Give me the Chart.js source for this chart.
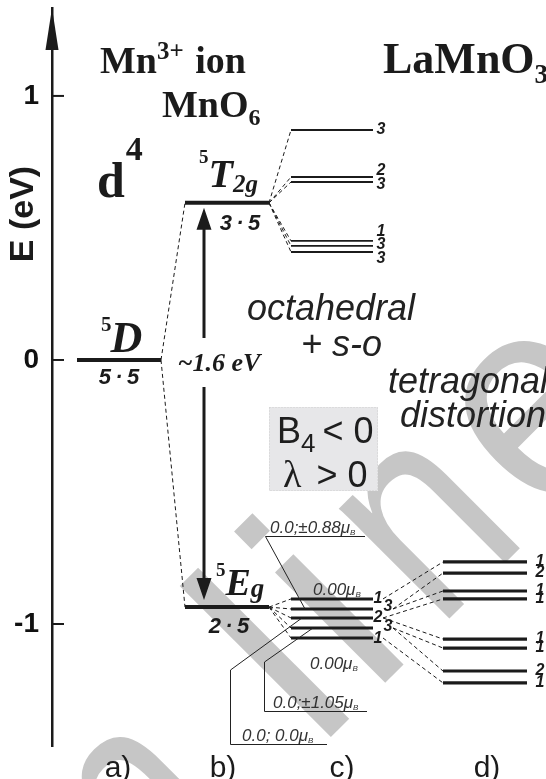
<!DOCTYPE html>
<html>
<head>
<meta charset="utf-8">
<title>Mn3+ d4 levels in LaMnO3</title>
<script src="https://cdn.jsdelivr.net/npm/chart.js@4/dist/chart.umd.min.js"></script>
<style>
  html, body { margin: 0; padding: 0; background: #fff; }
  #wrap { width: 546px; height: 779px; position: relative; }
</style>
</head>
<body>
<div id="wrap"><canvas id="c" width="546" height="779"></canvas></div>
<script>
// ---- level energies (eV) and degeneracies ----
const freeIonLevels   = [0];                       // 5D
const freeIonLabels   = ['5\u2009·\u20095'];
const cubicLevels     = [0.595, -0.936];           // 5T2g, 5Eg
const cubicLabels     = ['3\u2009·\u20095', '2\u2009·\u20095'];
const t2gSplitLevels  = [0.871, 0.693, 0.674, 0.451, 0.432, 0.409];
const t2gSplitDeg     = ['3', '2', '3', '1', '3', '3'];
const egSplitLevels   = [-0.905, -0.943, -0.977, -1.015, -1.053];
const egSplitDeg      = ['1', '3', '2', '3', '1'];
const tetraLevels     = [-0.765, -0.807, -0.875, -0.905, -1.057, -1.091, -1.178, -1.223];
const tetraDeg        = ['1', '2', '1', '1', '1', '1', '2', '1'];
const tetraParent     = [0, 1, 1, 2, 2, 3, 3, 4];  // which egSplit level each one comes from
const yTicks          = [-1, 0, 1];
const yRange          = [-1.462, 1.333];
const columnNames     = ['a)', 'b)', 'c)', 'd)'];
const gapLabel        = '~1.6 eV';

// ---- styling ----
const SERIF = "'Liberation Serif','Times New Roman',serif";
const SANS  = "'Liberation Sans',Arial,sans-serif";
const INK   = '#1b1b1b';
const f = (style, weight, size, fam) => `${style} ${weight} ${size}px ${fam}`;

// column spans on the x scale (x scale runs in pixel-like units)
const COL = { a: [77, 161], b: [185, 269], c: [291, 373], d: [443, 527] };

// ---- datasets ----
const datasets = [];
function link(x0, e0, x1, e1) {
  datasets.push({ data: [{ x: x0, y: e0 }, { x: x1, y: e1 }], borderColor: INK, borderWidth: 1,
    borderDash: [4, 3], pointRadius: 0, showLine: true, order: 2 });
}
function level(span, e, w) {
  datasets.push({ data: [{ x: span[0], y: e }, { x: span[1], y: e }], borderColor: INK, borderWidth: w,
    borderDash: [], pointRadius: 0, showLine: true, borderCapStyle: 'butt', order: 1 });
}
// connectors
cubicLevels.forEach(e => link(COL.a[1], freeIonLevels[0], COL.b[0], e));
t2gSplitLevels.forEach(e => link(COL.b[1], cubicLevels[0], COL.c[0], e));
egSplitLevels.forEach(e => link(COL.b[1], cubicLevels[1], COL.c[0], e));
tetraLevels.forEach((e, i) => {
  const p = tetraParent[i];
  link(COL.c[1] + (p % 2 ? 20 : 10), egSplitLevels[p], COL.d[0], e);
});
// levels
freeIonLevels.forEach(e => level(COL.a, e, 4));
cubicLevels.forEach(e => level(COL.b, e, 4));
t2gSplitLevels.forEach(e => level(COL.c, e, 1.8));
egSplitLevels.forEach(e => level(COL.c, e, 3));
tetraLevels.forEach(e => level(COL.d, e, 3.2));

// ---- helpers ----
function rich(ctx, parts, x, y, align) {
  let w = 0;
  parts.forEach(p => { ctx.font = p.f; p.w = ctx.measureText(p.t).width; w += p.w + (p.gap || 0); });
  let cx = align === 'center' ? x - w / 2 : align === 'right' ? x - w : x;
  parts.forEach(p => { ctx.font = p.f; ctx.fillText(p.t, cx, y + (p.dy || 0)); cx += p.w + (p.gap || 0); });
}

// watermark drawn behind everything
const backdrop = {
  id: 'backdrop',
  beforeDraw(chart) {
    const ctx = chart.ctx;
    ctx.save();
    ctx.fillStyle = '#fff';
    ctx.fillRect(0, 0, chart.width, chart.height);
    ctx.translate(340, 728);
    ctx.rotate(-Math.PI / 4);
    ctx.fillStyle = '#c6c6c6';
    ctx.font = f('normal', 'normal', 295, SANS);
    ctx.textAlign = 'center';
    ctx.textBaseline = 'alphabetic';
    const letters = ['o', 'n', 'l', 'i', 'n', 'e'];
    const along   = [-375, -200, 0, 77, 204, 362];
    const squeeze = [0.85, 0.8, 1, 1, 0.8, 0.9];
    letters.forEach((L, i) => {
      ctx.save();
      ctx.translate(along[i], 0);
      ctx.scale(squeeze[i], 1);
      ctx.fillText(L, 0, 0);
      ctx.restore();
    });
    ctx.restore();
  }
};

const annotate = {
  id: 'annotate',
  afterDatasetsDraw(chart) {
    const ctx = chart.ctx;
    const ys = chart.scales.y;
    const Y = v => ys.getPixelForValue(v);
    const axX = chart.chartArea.left;
    ctx.save();
    ctx.fillStyle = INK;
    ctx.strokeStyle = INK;

    // axis arrow head and tick marks
    ctx.beginPath();
    ctx.moveTo(axX, chart.chartArea.top);
    ctx.lineTo(axX - 6.5, chart.chartArea.top + 42);
    ctx.lineTo(axX + 6.5, chart.chartArea.top + 42);
    ctx.closePath();
    ctx.fill();
    ctx.lineWidth = 2;
    yTicks.forEach(v => { ctx.beginPath(); ctx.moveTo(axX, Y(v)); ctx.lineTo(axX + 12, Y(v)); ctx.stroke(); });

    // axis title
    ctx.save();
    ctx.translate(33, 214);
    ctx.rotate(-Math.PI / 2);
    ctx.font = f('normal', 'bold', 34, SANS);
    ctx.textAlign = 'center';
    ctx.textBaseline = 'alphabetic';
    ctx.fillText('E (eV)', 0, 0);
    ctx.restore();

    // double arrow across the cubic gap
    const ax = 204, yT = Y(cubicLevels[0]), yE = Y(cubicLevels[1]), y0 = Y(freeIonLevels[0]);
    ctx.lineWidth = 3;
    ctx.beginPath();
    ctx.moveTo(ax, yT + 25); ctx.lineTo(ax, y0 - 22);
    ctx.moveTo(ax, y0 + 27); ctx.lineTo(ax, yE - 25);
    ctx.stroke();
    ctx.beginPath();
    ctx.moveTo(ax, yT + 5); ctx.lineTo(ax - 7.5, yT + 27); ctx.lineTo(ax + 7.5, yT + 27); ctx.closePath();
    ctx.moveTo(ax, yE - 7); ctx.lineTo(ax - 7.5, yE - 29); ctx.lineTo(ax + 7.5, yE - 29); ctx.closePath();
    ctx.fill();

    ctx.textBaseline = 'alphabetic';
    // headings
    rich(ctx, [{ t: 'Mn', f: f('normal', 'bold', 38, SERIF) },
               { t: '3+', f: f('normal', 'bold', 25, SERIF), dy: -14, gap: 2 },
               { t: ' ion', f: f('normal', 'bold', 38, SERIF) }], 100, 73, 'left');
    rich(ctx, [{ t: 'MnO', f: f('normal', 'bold', 38, SERIF) },
               { t: '6', f: f('normal', 'bold', 24, SERIF), dy: 8 }], 162, 117, 'left');
    rich(ctx, [{ t: 'd', f: f('normal', 'bold', 50, SERIF), gap: 1 },
               { t: '4', f: f('normal', 'bold', 34, SERIF), dy: -37 }], 97, 197, 'left');
    rich(ctx, [{ t: 'LaMnO', f: f('normal', 'bold', 44, SERIF) },
               { t: '3', f: f('normal', 'bold', 27, SERIF), dy: 10 }], 383, 73, 'left');

    // term symbols
    rich(ctx, [{ t: '5', f: f('normal', 'bold', 21, SERIF), dy: -21, gap: -1 },
               { t: 'D', f: f('italic', 'bold', 44, SERIF) }], 101, y0 - 8, 'left');
    rich(ctx, [{ t: '5', f: f('normal', 'bold', 19, SERIF), dy: -24, gap: 0 },
               { t: 'T', f: f('italic', 'bold', 40, SERIF) },
               { t: '2g', f: f('italic', 'bold', 25, SERIF), dy: 5 }], 199, yT - 16, 'left');
    rich(ctx, [{ t: '5', f: f('normal', 'bold', 19, SERIF), dy: -19, gap: 0 },
               { t: 'E', f: f('italic', 'bold', 38, SERIF) },
               { t: 'g', f: f('italic', 'bold', 27, SERIF), dy: 2 }], 216, yE - 12, 'left');

    ctx.font = f('italic', 'bold', 22, SANS);
    ctx.textAlign = 'center';
    ctx.fillText(freeIonLabels[0], 119, y0 + 24);
    ctx.fillText(cubicLabels[0], 240, yT + 27);
    ctx.fillText(cubicLabels[1], 229, yE + 26);

    ctx.font = f('italic', 'bold', 26, SERIF);
    ctx.fillText(gapLabel, 219, y0 + 11);

    // descriptions
    ctx.textAlign = 'left';
    ctx.fillStyle = '#222';
    ctx.font = f('italic', 'normal', 36, SANS);
    ctx.fillText('octahedral', 247, 320);
    ctx.fillText('+ s-o', 301, 356);
    ctx.fillText('tetragonal', 388, 393);
    ctx.fillText('distortion', 400, 427);

    // parameter box
    ctx.fillStyle = '#e7e7e9';
    ctx.fillRect(269, 407, 109, 84);
    ctx.strokeStyle = '#cfcfcf';
    ctx.lineWidth = 1;
    ctx.setLineDash([1, 2]);
    ctx.strokeRect(269.5, 407.5, 108, 83);
    ctx.setLineDash([]);
    ctx.fillStyle = '#1e1e1e';
    rich(ctx, [{ t: 'B', f: f('normal', 'normal', 36, SANS) },
               { t: '4', f: f('normal', 'normal', 26, SANS), dy: 9, gap: 7 },
               { t: '< 0', f: f('normal', 'normal', 36, SANS) }], 277, 443, 'left');
    rich(ctx, [{ t: 'λ', f: f('normal', 'normal', 38, SERIF), gap: 15 },
               { t: '> 0', f: f('normal', 'normal', 36, SANS) }], 283, 487, 'left');

    // degeneracy labels
    ctx.fillStyle = INK;
    ctx.font = f('italic', 'bold', 16, SANS);
    ctx.textAlign = 'center';
    ctx.textBaseline = 'middle';
    const t2gShift = [0, -6, 3, -9, -1, 7];
    t2gSplitLevels.forEach((e, i) => ctx.fillText(t2gSplitDeg[i], 381, Y(e) + t2gShift[i]));
    const egShift = [0, -2, 0, -1, 1];
    egSplitLevels.forEach((e, i) => ctx.fillText(egSplitDeg[i], i % 2 ? 388 : 378, Y(e) + egShift[i]));
    tetraLevels.forEach((e, i) => ctx.fillText(tetraDeg[i], 540, Y(e)));

    // magnetic-moment callouts
    ctx.textBaseline = 'alphabetic';
    ctx.textAlign = 'left';
    ctx.fillStyle = '#333';
    ctx.strokeStyle = '#222';
    ctx.lineWidth = 1;
    const mu = (txt, x, y) => rich(ctx, [
      { t: txt, f: f('italic', 'normal', 17, SANS) },
      { t: 'μ', f: f('italic', 'normal', 17, SANS) },
      { t: 'B', f: f('italic', 'normal', 8, SANS), dy: 2 }], x, y, 'left');
    const cy = i => Y(egSplitLevels[i]);
    mu('0.0;±0.88', 270, 533);
    mu('0.00', 313, 595);
    mu('0.00', 310, 669);
    mu('0.0;±1.05', 273, 708);
    mu('0.0; 0.0', 242, 741);
    ctx.beginPath();
    ctx.moveTo(365, 536.5); ctx.lineTo(265.5, 536.5); ctx.lineTo(305, cy(1));
    ctx.moveTo(367, 711.5); ctx.lineTo(264.5, 711.5); ctx.lineTo(264.5, 662); ctx.lineTo(313, cy(3));
    ctx.moveTo(327, 744.5); ctx.lineTo(230.5, 744.5); ctx.lineTo(230.5, 670); ctx.lineTo(302, cy(2));
    ctx.stroke();

    // column captions
    ctx.fillStyle = INK;
    ctx.font = f('normal', 'normal', 30, SANS);
    ctx.textAlign = 'center';
    const capX = [118, 223, 342, 487];
    columnNames.forEach((n, i) => ctx.fillText(n, capX[i], 777));
    ctx.restore();
  }
};

const chart = new Chart(document.getElementById('c'), {
  type: 'scatter',
  data: { datasets },
  options: {
    responsive: false,
    animation: false,
    devicePixelRatio: 1,
    layout: { padding: { top: 8, bottom: 33, left: 0, right: 0 } },
    plugins: { legend: { display: false }, tooltip: { enabled: false } },
    elements: { line: { tension: 0 } },
    scales: {
      x: { type: 'linear', display: false, min: 52, max: 546 },
      y: {
        type: 'linear', position: 'left', min: yRange[0], max: yRange[1],
        afterBuildTicks: s => { s.ticks = yTicks.map(v => ({ value: v })); },
        afterFit: s => { s.width = 52; s.paddingTop = 0; s.paddingBottom = 0; },
        grid: { display: false, drawTicks: false },
        border: { display: true, color: INK, width: 2.5 },
        ticks: { padding: 13, color: '#111', font: { family: SANS, size: 28, weight: 'bold' },
                 callback: v => String(v) }
      }
    }
  },
  plugins: [backdrop, annotate]
});
</script>
</body>
</html>
